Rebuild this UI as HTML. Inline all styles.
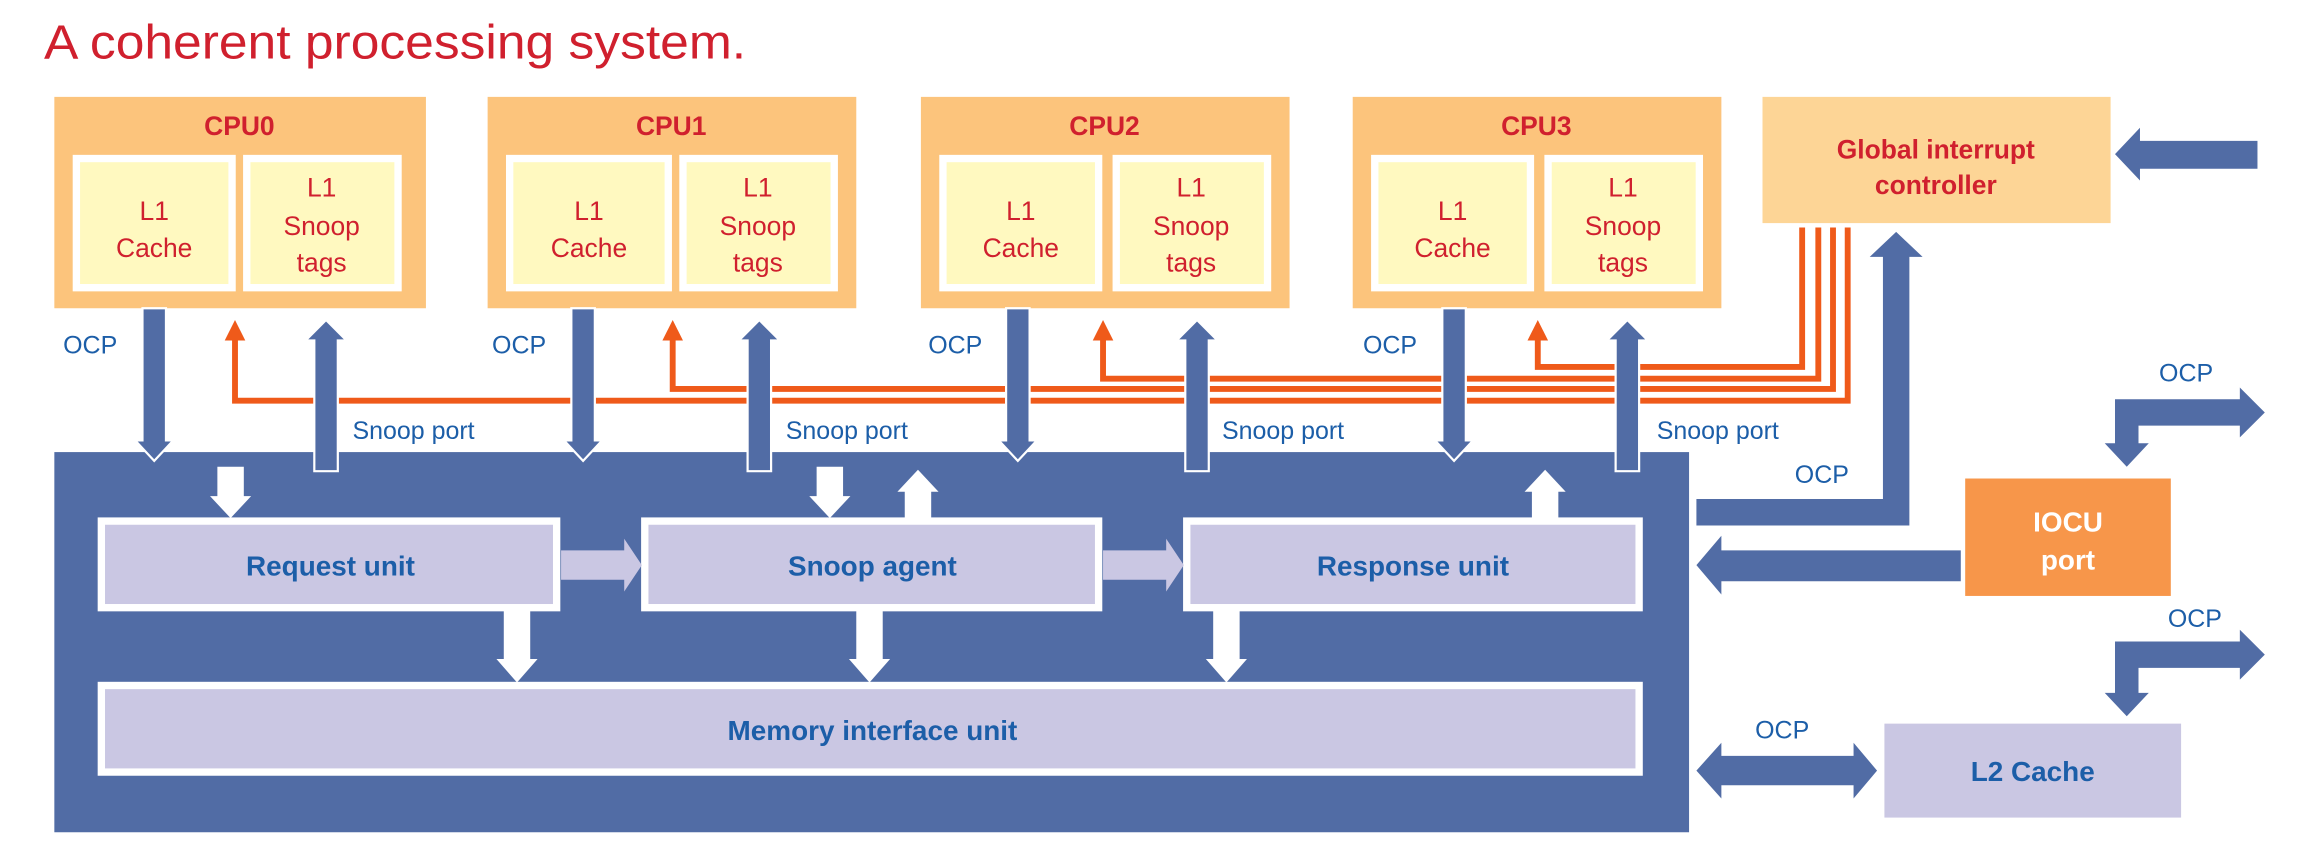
<!DOCTYPE html>
<html><head><meta charset="utf-8"><style>
html,body{margin:0;padding:0;background:#fff;}
svg{display:block;}
text{font-family:"Liberation Sans",sans-serif;}
.r{fill:#d0202e;}
.b{fill:#1c5ea8;}
.cpu{font-weight:bold;font-size:18px;fill:#d0202e;}
.l1{font-size:18px;fill:#d0202e;}
.u{font-weight:bold;font-size:19px;fill:#1c5ea8;}
.o{font-size:17px;fill:#1c5ea8;}
</style></head><body>
<svg width="2303" height="844" viewBox="0 0 1568 575" preserveAspectRatio="none" xmlns="http://www.w3.org/2000/svg">
<text x="30" y="40" font-size="33" class="r" textLength="478" lengthAdjust="spacingAndGlyphs">A coherent processing system.</text>

<g>
<rect x="37" y="66" width="253" height="144" fill="#fcc47c"/>
<rect x="332" y="66" width="251" height="144" fill="#fcc47c"/>
<rect x="627" y="66" width="251" height="144" fill="#fcc47c"/>
<rect x="921" y="66" width="251" height="144" fill="#fcc47c"/>
</g>
<g fill="#fff9c0" stroke="#fff" stroke-width="5">
<rect x="52" y="108" width="106" height="88"/><rect x="168" y="108" width="103" height="88"/>
<rect x="347" y="108" width="108" height="88"/><rect x="465" y="108" width="103" height="88"/>
<rect x="642" y="108" width="106" height="88"/><rect x="760" y="108" width="103" height="88"/>
<rect x="936" y="108" width="106" height="88"/><rect x="1054" y="108" width="103" height="88"/>
</g>
<g class="cpu" text-anchor="middle">
<text x="163" y="92">CPU0</text><text x="457" y="92">CPU1</text><text x="752" y="92">CPU2</text><text x="1046" y="92">CPU3</text>
</g>
<g class="l1" text-anchor="middle">
<text x="105" y="150">L1</text><text x="105" y="175">Cache</text>
<text x="219" y="134">L1</text><text x="219" y="160">Snoop</text><text x="219" y="185">tags</text>
<text x="401" y="150">L1</text><text x="401" y="175">Cache</text>
<text x="516" y="134">L1</text><text x="516" y="160">Snoop</text><text x="516" y="185">tags</text>
<text x="695" y="150">L1</text><text x="695" y="175">Cache</text>
<text x="811" y="134">L1</text><text x="811" y="160">Snoop</text><text x="811" y="185">tags</text>
<text x="989" y="150">L1</text><text x="989" y="175">Cache</text>
<text x="1105" y="134">L1</text><text x="1105" y="160">Snoop</text><text x="1105" y="185">tags</text>
</g>

<rect x="1200" y="66" width="237" height="86" fill="#fdd596"/>
<text x="1318" y="108" text-anchor="middle" font-weight="bold" font-size="18" class="r">Global interrupt</text>
<text x="1318" y="132" text-anchor="middle" font-weight="bold" font-size="18" class="r">controller</text>
<polygon fill="#516ca5" points="1537,96 1537,115 1457,115 1457,123 1440,105 1457,87 1457,96"/>

<g fill="none" stroke="#ef5a1a" stroke-width="4">
<polyline points="160,228 160,273 1258,273 1258,155"/>
<polyline points="458,228 458,265 1248,265 1248,155"/>
<polyline points="751,228 751,258 1238,258 1238,155"/>
<polyline points="1047,228 1047,250 1227,250 1227,155"/>
</g>
<g fill="#ef5a1a">
<polygon points="160,218 167,232 153,232"/><polygon points="458,218 465,232 451,232"/>
<polygon points="751,218 758,232 744,232"/><polygon points="1047,218 1054,232 1040,232"/>
</g>

<rect x="37" y="308" width="1113" height="259" fill="#516ca5"/>

<g fill="#516ca5" stroke="#fff" stroke-width="1.5">
<polygon points="97,210 113,210 113,300 118,300 105,314 92,300 97,300"/>
<polygon points="389,210 405,210 405,300 410,300 397,314 384,300 389,300"/>
<polygon points="685,210 701,210 701,300 706,300 693,314 680,300 685,300"/>
<polygon points="982,210 998,210 998,300 1003,300 990,314 977,300 982,300"/>
<polygon points="214,321 230,321 230,232 236,232 222,218 208,232 214,232"/>
<polygon points="509,321 525,321 525,232 531,232 517,218 503,232 509,232"/>
<polygon points="807,321 823,321 823,232 829,232 815,218 801,232 807,232"/>
<polygon points="1100,321 1116,321 1116,232 1122,232 1108,218 1094,232 1100,232"/>
</g>
<g class="o">
<text x="43" y="241">OCP</text><text x="335" y="241">OCP</text><text x="632" y="241">OCP</text><text x="928" y="241">OCP</text>
<text x="240" y="299">Snoop port</text><text x="535" y="299">Snoop port</text><text x="832" y="299">Snoop port</text><text x="1128" y="299">Snoop port</text>
</g>

<g fill="#cac7e3" stroke="#fff" stroke-width="5">
<rect x="69" y="355" width="310" height="59"/>
<rect x="439" y="355" width="309" height="59"/>
<rect x="808" y="355" width="308" height="59"/>
<rect x="69" y="467" width="1047" height="59"/>
</g>
<g class="u" text-anchor="middle">
<text x="225" y="392">Request unit</text>
<text x="594" y="392">Snoop agent</text>
<text x="962" y="392">Response unit</text>
<text x="594" y="504">Memory interface unit</text>
</g>
<g fill="#cac7e3">
<polygon points="382,375 425,375 425,367 437,385 425,403 425,395 382,395"/>
<polygon points="751,375 794,375 794,367 806,385 794,403 794,395 751,395"/>
</g>
<g fill="#fff">
<polygon points="148,318 166,318 166,338 171,338 157,353 143,338 148,338"/>
<polygon points="556,318 574,318 574,338 579,338 565,353 551,338 556,338"/>
<polygon points="616,353 634,353 634,335 639,335 625,320 611,335 616,335"/>
<polygon points="1043,353 1061,353 1061,335 1066,335 1052,320 1038,335 1043,335"/>
<polygon points="343,416 361,416 361,449 366,449 352,465 338,449 343,449"/>
<polygon points="583,416 601,416 601,449 606,449 592,465 578,449 583,449"/>
<polygon points="826,416 844,416 844,449 849,449 835,465 821,449 826,449"/>
</g>

<polygon fill="#516ca5" points="1155,340 1282,340 1282,175 1273,175 1291,158 1309,175 1300,175 1300,358 1155,358"/>
<text x="1222" y="329" class="o">OCP</text>
<rect x="1338" y="326" width="140" height="80" fill="#f7964a"/>
<text x="1408" y="362" text-anchor="middle" font-weight="bold" font-size="19" fill="#fff">IOCU</text>
<text x="1408" y="388" text-anchor="middle" font-weight="bold" font-size="19" fill="#fff">port</text>
<polygon fill="#516ca5" points="1335,375 1335,396 1172,396 1172,405 1155,385 1172,365 1172,375"/>
<polygon fill="#516ca5" points="1440,272 1525,272 1525,264 1542,281 1525,298 1525,290 1456,290 1456,302 1463,302 1448,318 1433,302 1440,302"/>
<text x="1470" y="260" class="o">OCP</text>
<polygon fill="#516ca5" points="1440,437 1525,437 1525,429 1542,446 1525,463 1525,455 1456,455 1456,472 1463,472 1448,488 1433,472 1440,472"/>
<text x="1476" y="427" class="o">OCP</text>
<rect x="1283" y="493" width="202" height="64" fill="#cac7e3"/>
<text x="1384" y="532" text-anchor="middle" class="u">L2 Cache</text>
<polygon fill="#516ca5" points="1172,515 1262,515 1262,506 1278,525 1262,544 1262,535 1172,535 1172,544 1155,525 1172,506"/>
<text x="1195" y="503" class="o">OCP</text>
</svg>
</body></html>
